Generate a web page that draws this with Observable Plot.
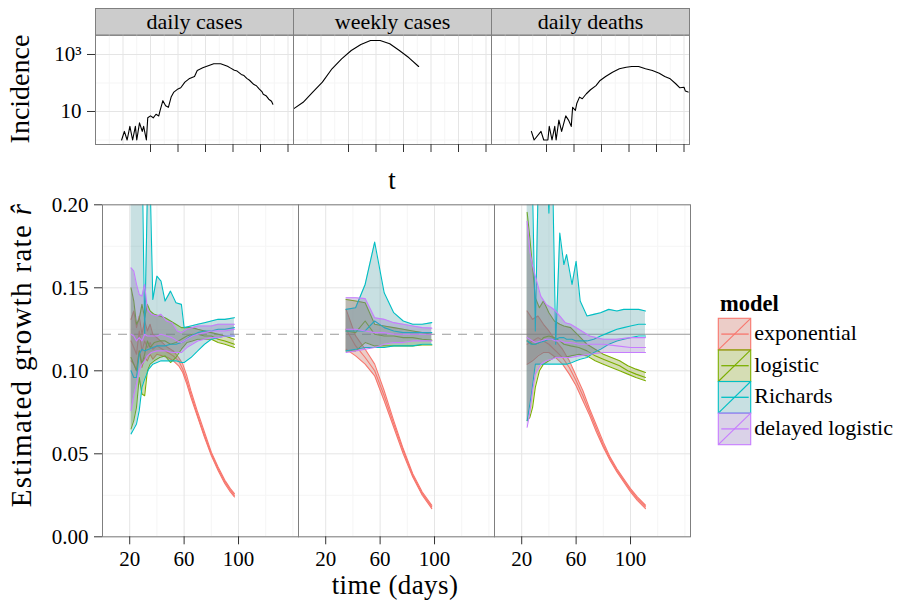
<!DOCTYPE html>
<html><head><meta charset="utf-8">
<script src="https://cdn.jsdelivr.net/npm/d3@7"></script>
<script src="https://cdn.jsdelivr.net/npm/@observablehq/plot@0.6"></script>
<style>
body{margin:0;background:#fff;}
#fig{position:relative;width:898px;height:602px;overflow:hidden;font-family:'Liberation Serif','DejaVu Serif','Times New Roman',Tinos,serif;color:#000;background:#fff;}
#fig svg{position:absolute;}
#fig svg text{font-family:'Liberation Serif','DejaVu Serif','Times New Roman',Tinos,serif;}
.lab{position:absolute;white-space:nowrap;font-size:28px;line-height:1;}
</style></head><body><div id="fig"></div><script>
// ---------- categories ----------
const panels = ["daily cases", "weekly cases", "daily deaths"];
const models = ["exponential", "logistic", "Richards", "delayed logistic"];
const lineColors = ["#F8766D", "#7CAE00", "#00BFC4", "#C77CFF"];
const fillColors = ["#C05848", "#738E05", "#48989E", "#8469B2"];

// ---------- incidence (top row) ----------
const casesT = [19,21,23,25,27,29,30,32,34,35,37,38,40,42,44,46,47,49,51,53,55,57,60,62,65,68,72,74,78,82,86,91,96,98,101,103,106,108,110,112,115,117,119,121,122,124,126,128,129];
const casesV = [1,2,1,3,1,3,1,4,2,3,1,6,7,6,8,7,11,24,16,14,32,48,62,68,107,140,169,275,341,401,472,472,388,340,280,262,200,182,145,125,90,80,62,50,40,36,27,23,18];
const weeklyT = [0,7,14,21,28,35,42,49,56,63,70,77,84,91];
const weeklyV = [12.4,21,47.5,107,315,706,1380,2244,3100,3100,2371,1380,766,379];
const deathsT = [29,31,36,38,41,42,44,46,47,49,51,54,56,58,59,61,62,64,66,69,72,76,79,83,88,93,98,102,107,112,117,122,126,130,134,137,140,141,143];
const deathsV = [2,1,2,1,1,3,1,3,1,5,2,7,5,3,14,11,19,32,28,42,58,81,123,169,240,315,358,379,379,315,275,221,169,140,94,68,71,52,48];

// ---------- growth-rate estimates [t, lower, estimate, upper] ----------
const dailyExponential = [[21,.106,.118,.131],[23,.104,.114,.136],[25,.100,.110,.126],[27,.112,.124,.133],[29,.102,.112,.122],[31,.108,.118,.130],[33,.106,.114,.124],[35,.110,.117,.128],[37,.107,.113,.122],[40,.110,.115,.120],[44,.109,.113,.117],[48,.108,.111,.114],[52,.106,.109,.112],[56,.103,.106,.108],[59,.099,.101,.104],[62,.092,.094,.097],[65,.084,.086,.088],[70,.072,.073,.075],[75,.060,.061,.063],[80,.049,.050,.051],[85,.040,.041,.042],[90,.032,.033,.034],[94,.027,.028,.029],[97,.024,.025,.026]];
const dailyLogistic = [[21,.065,.108,.150],[23,.070,.104,.142],[25,.078,.100,.128],[27,.096,.112,.131],[29,.086,.104,.140],[31,.085,.110,.132],[33,.100,.118,.140],[35,.104,.114,.136],[38,.106,.117,.134],[42,.108,.118,.133],[46,.109,.118,.132],[50,.105,.116,.130],[54,.108,.117,.128],[58,.113,.119,.126],[62,.117,.121,.126],[66,.118,.122,.126],[70,.119,.122,.125],[75,.119,.121,.124],[80,.119,.121,.123],[85,.117,.119,.122],[90,.116,.118,.121],[97,.114,.116,.119]];
const dailyRichards = [[21,.062,.100,.25],[23,.065,.096,.25],[25,.068,.096,.25],[27,.076,.110,.25],[29,.090,.113,.24],[31,.095,.112,.122],[34,.101,.113,.25],[37,.104,.114,.143],[40,.105,.115,.157],[43,.106,.115,.154],[46,.106,.115,.142],[50,.106,.116,.148],[54,.106,.116,.141],[58,.105,.117,.140],[60,.105,.118,.126],[65,.108,.121,.127],[70,.112,.123,.128],[75,.116,.124,.129],[80,.119,.124,.130],[85,.120,.125,.131],[90,.121,.125,.131],[97,.121,.126,.132]];
const dailyDelayed = [[21,.076,.122,.162],[23,.085,.121,.160],[25,.092,.118,.152],[27,.100,.120,.146],[29,.104,.118,.145],[31,.106,.122,.152],[33,.109,.121,.137],[36,.111,.121,.134],[40,.112,.121,.133],[43,.112,.122,.134],[47,.112,.121,.130],[51,.111,.120,.129],[55,.111,.118,.124],[58,.111,.117,.123],[62,.114,.119,.125],[66,.116,.121,.126],[70,.118,.122,.127],[75,.119,.123,.127],[80,.120,.124,.127],[85,.120,.124,.128],[90,.121,.124,.128],[97,.121,.125,.128]];

const weeklyExponential = [[35,.113,.125,.137],[42,.109,.115,.121],[49,.104,.108,.113],[56,.097,.100,.104],[63,.082,.085,.088],[70,.066,.068,.070],[77,.050,.052,.053],[84,.036,.037,.038],[91,.025,.026,.027],[98,.017,.018,.019]];
const weeklyLogistic = [[35,.112,.124,.143],[42,.112,.123,.142],[49,.117,.130,.141],[56,.115,.122,.128],[63,.115,.121,.127],[70,.115,.121,.126],[77,.115,.120,.125],[84,.115,.120,.124],[91,.1155,.119,.123],[98,.1155,.1185,.122]];
const weeklyRichards = [[35,.112,.124,.137],[42,.113,.124,.138],[49,.114,.124,.152],[56,.114,.130,.1775],[63,.114,.126,.147],[70,.115,.124,.135],[77,.115,.123,.130],[84,.115,.123,.128],[91,.116,.123,.128],[98,.116,.123,.129]];
const weeklyDelayed = [[35,.111,.125,.144],[42,.112,.125,.144],[49,.113,.124,.1435],[56,.114,.123,.132],[63,.116,.123,.131],[70,.117,.122,.129],[77,.117,.122,.128],[84,.118,.122,.127],[91,.118,.122,.126],[98,.118,.122,.1257]];

const deathsExponential = [[24,.104,.116,.136],[28,.106,.118,.131],[32,.109,.120,.133],[36,.111,.118,.128],[40,.111,.116,.124],[45,.108,.112,.118],[50,.104,.108,.113],[55,.098,.102,.106],[60,.091,.094,.097],[65,.082,.085,.088],[70,.073,.075,.077],[75,.063,.065,.067],[80,.054,.055,.057],[85,.046,.047,.048],[90,.039,.040,.041],[95,.033,.034,.035],[100,.027,.028,.029],[105,.022,.023,.024],[111,.017,.018,.019]];
const deathsLogistic = [[24,.070,.118,.1955],[26,.072,.117,.180],[28,.078,.116,.162],[30,.090,.116,.144],[33,.100,.117,.138],[36,.104,.120,.142],[40,.106,.121,.135],[44,.108,.120,.130],[48,.108,.118,.128],[51,.108,.116,.127],[56,.109,.115,.126],[62,.110,.114,.121],[68,.109,.112,.116],[74,.106,.109,.113],[80,.104,.107,.110],[86,.102,.105,.108],[92,.100,.103,.106],[98,.098,.100,.103],[104,.096,.098,.101],[111,.094,.096,.099]];
const deathsRichards = [[24,.070,.118,.25],[27,.085,.116,.25],[30,.104,.116,.124],[33,.104,.117,.25],[37,.104,.118,.25],[40,.104,.119,.195],[42,.104,.119,.25],[45,.104,.119,.116],[48,.104,.120,.183],[51,.104,.120,.164],[53,.104,.119,.170],[57,.105,.119,.152],[60,.106,.118,.166],[63,.107,.118,.142],[68,.108,.118,.133],[73,.111,.119,.134],[78,.113,.121,.135],[84,.116,.123,.137],[90,.118,.125,.136],[95,.119,.126,.137],[100,.120,.127,.137],[106,.121,.128,.137],[111,.121,.128,.136]];
const deathsDelayed = [[24,.066,.120,.190],[26,.075,.119,.172],[28,.088,.118,.163],[30,.098,.117,.157],[34,.104,.118,.145],[38,.106,.119,.140],[42,.107,.119,.138],[45,.108,.118,.136],[49,.108,.118,.132],[52,.108,.117,.129],[56,.108,.117,.128],[62,.109,.116,.125],[70,.110,.116,.121],[80,.111,.116,.119],[90,.111,.115,.119],[100,.111,.114,.120],[111,.111,.114,.120]];

const referenceRate = 0.122;
const yTicksTop = [10, 1000];
const yTicksBottom = [0, 0.05, 0.10, 0.15, 0.20];
const xTicksBottom = [20, 60, 100];
const xTicksTop = [40, 60, 80, 100, 120, 140];

// ---------- build tables ----------
const incidence = [];
[[casesT, casesV], [weeklyT, weeklyV], [deathsT, deathsV]].forEach(([T, V], i) =>
  T.forEach((t, j) => incidence.push({panel: panels[i], t, value: V[j]})));

const estimates = [
  [dailyExponential, dailyLogistic, dailyRichards, dailyDelayed],
  [weeklyExponential, weeklyLogistic, weeklyRichards, weeklyDelayed],
  [deathsExponential, deathsLogistic, deathsRichards, deathsDelayed]
];
const rows = [];
estimates.forEach((byModel, p) => byModel.forEach((arr, m) =>
  arr.forEach(([t, lo, mid, hi]) => rows.push({panel: panels[p], model: models[m], t, lo, mid, hi}))));

const fig = document.getElementById("fig");
const FONT = "'Liberation Serif','DejaVu Serif','Times New Roman',Tinos,serif";
const baseStyle = {fontFamily: FONT, fontSize: "21px", color: "black", background: "transparent", overflow: "visible"};

// ---------- top row ----------
const topPlot = Plot.plot({
  width: 700, height: 200,
  marginLeft: 94, marginRight: 10, marginTop: 34.7, marginBottom: 56,
  style: baseStyle,
  fx: {domain: panels, padding: 0, axis: null, label: null},
  x: {domain: [0, 144], axis: null},
  y: {type: "log", domain: [0.695, 4755], axis: null},
  marks: [
    Plot.frame({fill: "#CCCCCC", stroke: "#7F7F7F", insetTop: -26.7, insetBottom: 109.3}),
    Plot.gridX([10,30,50,70,90,110,130], {stroke: "#F5F5F5", strokeOpacity: 1}),
    Plot.gridY([1, 100], {stroke: "#F5F5F5", strokeOpacity: 1}),
    Plot.gridX([20,40,60,80,100,120,140], {stroke: "#E5E5E5", strokeOpacity: 1}),
    Plot.gridY(yTicksTop, {stroke: "#E5E5E5", strokeOpacity: 1}),
    Plot.line(incidence, {fx: "panel", x: "t", y: "value", stroke: "black", strokeWidth: 1.1, clip: true}),
    Plot.frame({stroke: "#7F7F7F"}),
    Plot.text(panels, {fx: d => d, text: d => d, frameAnchor: "top", dy: -13.35, lineAnchor: "middle", fontSize: 22}),
    Plot.axisY(yTicksTop, {tickSize: 8, tickPadding: 6, label: null, stroke: "#333", tickFormat: d => d === 1000 ? "10³" : "10"}),
    Plot.axisX(xTicksTop, {tickSize: 8, label: null, stroke: "#333", tickFormat: () => ""})
  ]
});
topPlot.style.left = "0px"; topPlot.style.top = "0px";
fig.appendChild(topPlot);

// ---------- bottom row ----------
const rateMarks = [];
models.forEach((m, i) => {
  const data = rows.filter(d => d.model === m);
  rateMarks.push(
    Plot.areaY(data, {fx: "panel", x: "t", y1: "lo", y2: "hi", fill: fillColors[i], fillOpacity: 0.3, clip: true}),
    Plot.line(data, {fx: "panel", x: "t", y: "lo", stroke: lineColors[i], strokeWidth: 1.1, clip: true}),
    Plot.line(data, {fx: "panel", x: "t", y: "hi", stroke: lineColors[i], strokeWidth: 1.1, clip: true}),
    Plot.line(data, {fx: "panel", x: "t", y: "mid", stroke: lineColors[i], strokeWidth: 1.1, clip: true})
  );
});

const bottomPlot = Plot.plot({
  width: 700, height: 406,
  marginLeft: 101, marginRight: 10, marginTop: 8.3, marginBottom: 65.7,
  style: baseStyle,
  fx: {domain: panels, padding: 0, axis: null, label: null},
  x: {domain: [0, 144.1], axis: null},
  y: {domain: [0, 0.2], axis: null},
  marks: [
    Plot.gridX([0,40,80,120,140], {stroke: "#F5F5F5", strokeOpacity: 1}),
    Plot.gridY([0.025,0.075,0.125,0.175], {stroke: "#F5F5F5", strokeOpacity: 1}),
    Plot.gridX(xTicksBottom, {stroke: "#E5E5E5", strokeOpacity: 1}),
    Plot.gridY(yTicksBottom, {stroke: "#E5E5E5", strokeOpacity: 1}),
    Plot.ruleY([{panel: "daily cases", r: referenceRate}, {panel: "weekly cases", r: referenceRate}], {fx: "panel", y: "r", stroke: "#9A9A9A", strokeWidth: 1.1, strokeDasharray: "9,7"}),
    Plot.ruleY([{panel: "daily deaths", r: referenceRate}], {fx: "panel", y: "r", stroke: "#9A9A9A", strokeWidth: 1.1}),
    ...rateMarks,
    Plot.frame({stroke: "#7F7F7F"}),
    Plot.axisY(yTicksBottom, {tickSize: 8, tickPadding: 6, label: null, stroke: "#333", tickFormat: d3.format(".2f")}),
    Plot.axisX(xTicksBottom, {tickSize: 8, tickPadding: 6, label: null, stroke: "#333"})
  ]
});
bottomPlot.style.left = "0px"; bottomPlot.style.top = "196px";
fig.appendChild(bottomPlot);

// ---------- axis titles ----------
function label(html, x, y, rot, size, spacing) {
  const d = document.createElement("div");
  d.className = "lab";
  d.innerHTML = html;
  d.style.left = x + "px"; d.style.top = y + "px";
  if (size) d.style.fontSize = size + "px";
  if (spacing) d.style.letterSpacing = spacing + "px";
  d.style.transform = "translate(-50%,-50%)" + (rot ? " rotate(-90deg)" : "");
  fig.appendChild(d);
}
label("Incidence", 20, 89, true, 28);
label("t", 392, 180, false, 27);
label("Estimated growth rate <i>r̂</i>", 21, 355, true, 29, 1.3);
label("time (days)", 395, 585, false, 27, 0.4);

// ---------- legend ----------
const leg = d3.select(fig).append("svg")
  .attr("width", 198).attr("height", 180)
  .style("left", "700px").style("top", "280px")
  .style("font-family", FONT);
leg.append("text").attr("x", 20).attr("y", 31).attr("font-weight", "bold").attr("font-size", 22.5).text("model");
const kx = 18.3, kw = 32.4, kh = 31.6, ky0 = 38.3;
models.forEach((m, i) => {
  const y = ky0 + i * kh;
  const g = leg.append("g");
  g.append("rect").attr("x", kx).attr("y", y).attr("width", kw).attr("height", kh)
    .attr("fill", fillColors[i]).attr("fill-opacity", 0.3).attr("stroke", lineColors[i]).attr("stroke-width", 1.1);
  g.append("line").attr("x1", kx + 3).attr("x2", kx + kw - 2).attr("y1", y + kh / 2).attr("y2", y + kh / 2)
    .attr("stroke", lineColors[i]).attr("stroke-width", 1.3);
  g.append("line").attr("x1", kx).attr("x2", kx + kw).attr("y1", y + kh).attr("y2", y)
    .attr("stroke", lineColors[i]).attr("stroke-width", 1.1);
  g.append("text").attr("x", 54.3).attr("y", y + kh / 2 + 6).attr("font-size", 22).text(m);
});
</script></body></html>
